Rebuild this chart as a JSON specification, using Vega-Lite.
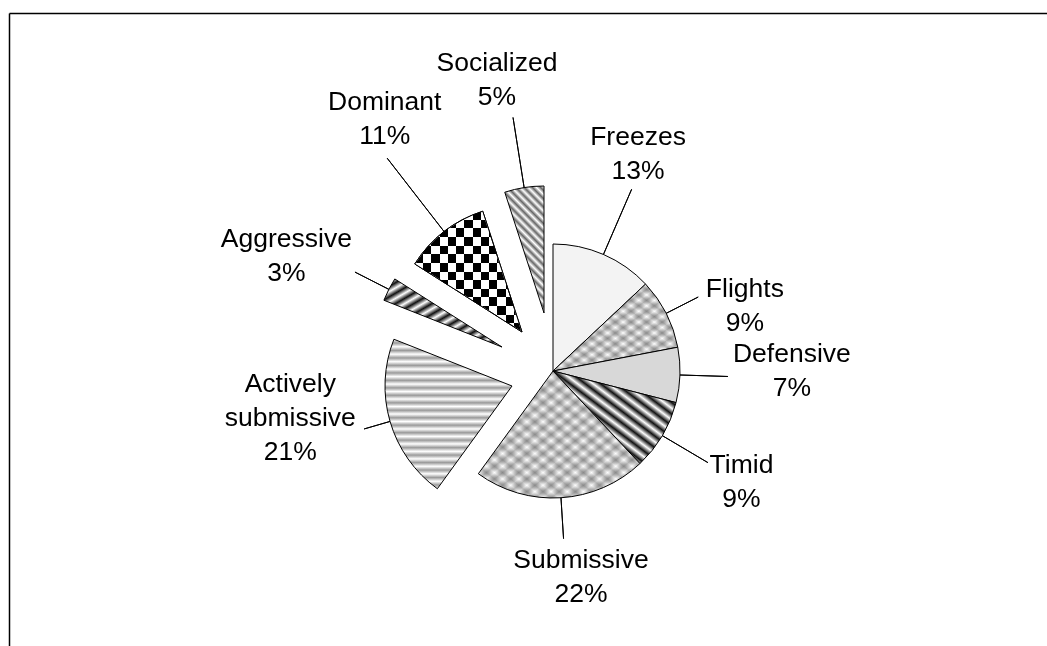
{
  "$schema": "https://vega.github.io/schema/vega-lite/v6.json",
  "width": 1038,
  "height": 633,
  "autosize": {"type": "none"},
  "padding": {"left": 9, "top": 13, "right": 0, "bottom": 0},
  "background": "white",
  "config": {"view": {"stroke": null}, "font": "Liberation Sans"},
  "data": {"values": [
    {"Behavior": "Freezes", "Percent": 13, "Label": "Freezes\n13%"},
    {"Behavior": "Flights", "Percent": 9, "Label": "Flights\n9%"},
    {"Behavior": "Defensive", "Percent": 7, "Label": "Defensive\n7%"},
    {"Behavior": "Timid", "Percent": 9, "Label": "Timid\n9%"},
    {"Behavior": "Submissive", "Percent": 22, "Label": "Submissive\n22%"},
    {"Behavior": "Actively submissive", "Percent": 21, "Label": "Actively\nsubmissive\n21%"},
    {"Behavior": "Aggressive", "Percent": 3, "Label": "Aggressive\n3%"},
    {"Behavior": "Dominant", "Percent": 11, "Label": "Dominant\n11%"},
    {"Behavior": "Socialized", "Percent": 5, "Label": "Socialized\n5%"}
  ]},
  "transform": [{"stack": "Percent", "groupby": [], "as": ["p0", "p1"]}],
  "encoding": {
    "theta": {"field": "p0", "type": "quantitative", "scale": {"domain": [0, 100]}, "stack": null},
    "theta2": {"field": "p1"}
  },
  "layer": [
    {"mark": {"type": "point", "opacity": 0},
     "encoding": {
       "x": {"datum": 0, "type": "quantitative", "scale": {"domain": [0, 1]},
             "axis": {"orient": "top", "domain": true, "domainColor": "#000", "domainWidth": 1.5, "ticks": false, "labels": false, "grid": false, "title": null, "minExtent": 0, "maxExtent": 0}},
       "y": {"datum": 0, "type": "quantitative", "scale": {"domain": [0, 1]},
             "axis": {"orient": "left", "domain": true, "domainColor": "#000", "domainWidth": 1.5, "ticks": false, "labels": false, "grid": false, "title": null, "minExtent": 0, "maxExtent": 0}},
       "theta": null, "theta2": null}},

    {"transform": [{"filter": "datum.Behavior === 'Freezes'"}],
     "mark": {"type": "arc", "radius": 127, "xOffset": 25, "yOffset": 41.5, "stroke": "#000", "strokeWidth": 1, "fill": "#f3f3f3"}},

    {"transform": [{"filter": "datum.Behavior === 'Flights'"}],
     "mark": {"type": "arc", "radius": 127, "xOffset": 25, "yOffset": 41.5, "stroke": "#000", "strokeWidth": 1,
       "fill": {"gradient": "linear", "x1": 0, "y1": 0, "x2": 1, "y2": 1, "stops": [
         {"offset": 0, "color": "#fff"}, {"offset": 0.03125, "color": "#bbb"}, {"offset": 0.0625, "color": "#fff"}, {"offset": 0.09375, "color": "#bbb"},
         {"offset": 0.125, "color": "#fff"}, {"offset": 0.15625, "color": "#bbb"}, {"offset": 0.1875, "color": "#fff"}, {"offset": 0.21875, "color": "#bbb"},
         {"offset": 0.25, "color": "#fff"}, {"offset": 0.28125, "color": "#bbb"}, {"offset": 0.3125, "color": "#fff"}, {"offset": 0.34375, "color": "#bbb"},
         {"offset": 0.375, "color": "#fff"}, {"offset": 0.40625, "color": "#bbb"}, {"offset": 0.4375, "color": "#fff"}, {"offset": 0.46875, "color": "#bbb"},
         {"offset": 0.5, "color": "#fff"}, {"offset": 0.53125, "color": "#bbb"}, {"offset": 0.5625, "color": "#fff"}, {"offset": 0.59375, "color": "#bbb"},
         {"offset": 0.625, "color": "#fff"}, {"offset": 0.65625, "color": "#bbb"}, {"offset": 0.6875, "color": "#fff"}, {"offset": 0.71875, "color": "#bbb"},
         {"offset": 0.75, "color": "#fff"}, {"offset": 0.78125, "color": "#bbb"}, {"offset": 0.8125, "color": "#fff"}, {"offset": 0.84375, "color": "#bbb"},
         {"offset": 0.875, "color": "#fff"}, {"offset": 0.90625, "color": "#bbb"}, {"offset": 0.9375, "color": "#fff"}, {"offset": 0.96875, "color": "#bbb"},
         {"offset": 1, "color": "#fff"}]}}},
    {"transform": [{"filter": "datum.Behavior === 'Flights'"}],
     "mark": {"type": "arc", "radius": 127, "xOffset": 25, "yOffset": 41.5, "strokeWidth": 0, "blend": "multiply",
       "fill": {"gradient": "linear", "x1": 0, "y1": 1, "x2": 1, "y2": 0, "stops": [
         {"offset": 0, "color": "#fff"}, {"offset": 0.03125, "color": "#bbb"}, {"offset": 0.0625, "color": "#fff"}, {"offset": 0.09375, "color": "#bbb"},
         {"offset": 0.125, "color": "#fff"}, {"offset": 0.15625, "color": "#bbb"}, {"offset": 0.1875, "color": "#fff"}, {"offset": 0.21875, "color": "#bbb"},
         {"offset": 0.25, "color": "#fff"}, {"offset": 0.28125, "color": "#bbb"}, {"offset": 0.3125, "color": "#fff"}, {"offset": 0.34375, "color": "#bbb"},
         {"offset": 0.375, "color": "#fff"}, {"offset": 0.40625, "color": "#bbb"}, {"offset": 0.4375, "color": "#fff"}, {"offset": 0.46875, "color": "#bbb"},
         {"offset": 0.5, "color": "#fff"}, {"offset": 0.53125, "color": "#bbb"}, {"offset": 0.5625, "color": "#fff"}, {"offset": 0.59375, "color": "#bbb"},
         {"offset": 0.625, "color": "#fff"}, {"offset": 0.65625, "color": "#bbb"}, {"offset": 0.6875, "color": "#fff"}, {"offset": 0.71875, "color": "#bbb"},
         {"offset": 0.75, "color": "#fff"}, {"offset": 0.78125, "color": "#bbb"}, {"offset": 0.8125, "color": "#fff"}, {"offset": 0.84375, "color": "#bbb"},
         {"offset": 0.875, "color": "#fff"}, {"offset": 0.90625, "color": "#bbb"}, {"offset": 0.9375, "color": "#fff"}, {"offset": 0.96875, "color": "#bbb"},
         {"offset": 1, "color": "#fff"}]}}},

    {"transform": [{"filter": "datum.Behavior === 'Defensive'"}],
     "mark": {"type": "arc", "radius": 127, "xOffset": 25, "yOffset": 41.5, "stroke": "#000", "strokeWidth": 1, "fill": "#d8d8d8"}},

    {"transform": [{"filter": "datum.Behavior === 'Timid'"}],
     "mark": {"type": "arc", "radius": 127, "xOffset": 25, "yOffset": 41.5, "stroke": "#000", "strokeWidth": 1,
       "fill": {"gradient": "linear", "x1": 0, "y1": 1, "x2": 1, "y2": 0, "stops": [
         {"offset": 0, "color": "#111"}, {"offset": 0.03125, "color": "#fff"}, {"offset": 0.0625, "color": "#111"}, {"offset": 0.09375, "color": "#fff"},
         {"offset": 0.125, "color": "#111"}, {"offset": 0.15625, "color": "#fff"}, {"offset": 0.1875, "color": "#111"}, {"offset": 0.21875, "color": "#fff"},
         {"offset": 0.25, "color": "#111"}, {"offset": 0.28125, "color": "#fff"}, {"offset": 0.3125, "color": "#111"}, {"offset": 0.34375, "color": "#fff"},
         {"offset": 0.375, "color": "#111"}, {"offset": 0.40625, "color": "#fff"}, {"offset": 0.4375, "color": "#111"}, {"offset": 0.46875, "color": "#fff"},
         {"offset": 0.5, "color": "#111"}, {"offset": 0.53125, "color": "#fff"}, {"offset": 0.5625, "color": "#111"}, {"offset": 0.59375, "color": "#fff"},
         {"offset": 0.625, "color": "#111"}, {"offset": 0.65625, "color": "#fff"}, {"offset": 0.6875, "color": "#111"}, {"offset": 0.71875, "color": "#fff"},
         {"offset": 0.75, "color": "#111"}, {"offset": 0.78125, "color": "#fff"}, {"offset": 0.8125, "color": "#111"}, {"offset": 0.84375, "color": "#fff"},
         {"offset": 0.875, "color": "#111"}, {"offset": 0.90625, "color": "#fff"}, {"offset": 0.9375, "color": "#111"}, {"offset": 0.96875, "color": "#fff"},
         {"offset": 1, "color": "#111"}]}}},

    {"transform": [{"filter": "datum.Behavior === 'Submissive'"}],
     "mark": {"type": "arc", "radius": 127, "xOffset": 25, "yOffset": 41.5, "stroke": "#000", "strokeWidth": 1,
       "fill": {"gradient": "linear", "x1": 0, "y1": 0, "x2": 1, "y2": 1, "stops": [
         {"offset": 0, "color": "#fff"}, {"offset": 0.025, "color": "#bbb"}, {"offset": 0.05, "color": "#fff"}, {"offset": 0.075, "color": "#bbb"},
         {"offset": 0.1, "color": "#fff"}, {"offset": 0.125, "color": "#bbb"}, {"offset": 0.15, "color": "#fff"}, {"offset": 0.175, "color": "#bbb"},
         {"offset": 0.2, "color": "#fff"}, {"offset": 0.225, "color": "#bbb"}, {"offset": 0.25, "color": "#fff"}, {"offset": 0.275, "color": "#bbb"},
         {"offset": 0.3, "color": "#fff"}, {"offset": 0.325, "color": "#bbb"}, {"offset": 0.35, "color": "#fff"}, {"offset": 0.375, "color": "#bbb"},
         {"offset": 0.4, "color": "#fff"}, {"offset": 0.425, "color": "#bbb"}, {"offset": 0.45, "color": "#fff"}, {"offset": 0.475, "color": "#bbb"},
         {"offset": 0.5, "color": "#fff"}, {"offset": 0.525, "color": "#bbb"}, {"offset": 0.55, "color": "#fff"}, {"offset": 0.575, "color": "#bbb"},
         {"offset": 0.6, "color": "#fff"}, {"offset": 0.625, "color": "#bbb"}, {"offset": 0.65, "color": "#fff"}, {"offset": 0.675, "color": "#bbb"},
         {"offset": 0.7, "color": "#fff"}, {"offset": 0.725, "color": "#bbb"}, {"offset": 0.75, "color": "#fff"}, {"offset": 0.775, "color": "#bbb"},
         {"offset": 0.8, "color": "#fff"}, {"offset": 0.825, "color": "#bbb"}, {"offset": 0.85, "color": "#fff"}, {"offset": 0.875, "color": "#bbb"},
         {"offset": 0.9, "color": "#fff"}, {"offset": 0.925, "color": "#bbb"}, {"offset": 0.95, "color": "#fff"}, {"offset": 0.975, "color": "#bbb"},
         {"offset": 1, "color": "#fff"}]}}},
    {"transform": [{"filter": "datum.Behavior === 'Submissive'"}],
     "mark": {"type": "arc", "radius": 127, "xOffset": 25, "yOffset": 41.5, "strokeWidth": 0, "blend": "multiply",
       "fill": {"gradient": "linear", "x1": 0, "y1": 1, "x2": 1, "y2": 0, "stops": [
         {"offset": 0, "color": "#fff"}, {"offset": 0.025, "color": "#bbb"}, {"offset": 0.05, "color": "#fff"}, {"offset": 0.075, "color": "#bbb"},
         {"offset": 0.1, "color": "#fff"}, {"offset": 0.125, "color": "#bbb"}, {"offset": 0.15, "color": "#fff"}, {"offset": 0.175, "color": "#bbb"},
         {"offset": 0.2, "color": "#fff"}, {"offset": 0.225, "color": "#bbb"}, {"offset": 0.25, "color": "#fff"}, {"offset": 0.275, "color": "#bbb"},
         {"offset": 0.3, "color": "#fff"}, {"offset": 0.325, "color": "#bbb"}, {"offset": 0.35, "color": "#fff"}, {"offset": 0.375, "color": "#bbb"},
         {"offset": 0.4, "color": "#fff"}, {"offset": 0.425, "color": "#bbb"}, {"offset": 0.45, "color": "#fff"}, {"offset": 0.475, "color": "#bbb"},
         {"offset": 0.5, "color": "#fff"}, {"offset": 0.525, "color": "#bbb"}, {"offset": 0.55, "color": "#fff"}, {"offset": 0.575, "color": "#bbb"},
         {"offset": 0.6, "color": "#fff"}, {"offset": 0.625, "color": "#bbb"}, {"offset": 0.65, "color": "#fff"}, {"offset": 0.675, "color": "#bbb"},
         {"offset": 0.7, "color": "#fff"}, {"offset": 0.725, "color": "#bbb"}, {"offset": 0.75, "color": "#fff"}, {"offset": 0.775, "color": "#bbb"},
         {"offset": 0.8, "color": "#fff"}, {"offset": 0.825, "color": "#bbb"}, {"offset": 0.85, "color": "#fff"}, {"offset": 0.875, "color": "#bbb"},
         {"offset": 0.9, "color": "#fff"}, {"offset": 0.925, "color": "#bbb"}, {"offset": 0.95, "color": "#fff"}, {"offset": 0.975, "color": "#bbb"},
         {"offset": 1, "color": "#fff"}]}}},

    {"transform": [{"filter": "datum.Behavior === 'Actively submissive'"}],
     "mark": {"type": "arc", "radius": 127, "xOffset": -16, "yOffset": 56.5, "stroke": "#000", "strokeWidth": 1,
       "fill": {"gradient": "linear", "x1": 0, "y1": 0, "x2": 0, "y2": 1, "stops": [
         {"offset": 0, "color": "#fff"}, {"offset": 0.025, "color": "#9a9a9a"}, {"offset": 0.05, "color": "#fff"}, {"offset": 0.075, "color": "#9a9a9a"},
         {"offset": 0.1, "color": "#fff"}, {"offset": 0.125, "color": "#9a9a9a"}, {"offset": 0.15, "color": "#fff"}, {"offset": 0.175, "color": "#9a9a9a"},
         {"offset": 0.2, "color": "#fff"}, {"offset": 0.225, "color": "#9a9a9a"}, {"offset": 0.25, "color": "#fff"}, {"offset": 0.275, "color": "#9a9a9a"},
         {"offset": 0.3, "color": "#fff"}, {"offset": 0.325, "color": "#9a9a9a"}, {"offset": 0.35, "color": "#fff"}, {"offset": 0.375, "color": "#9a9a9a"},
         {"offset": 0.4, "color": "#fff"}, {"offset": 0.425, "color": "#9a9a9a"}, {"offset": 0.45, "color": "#fff"}, {"offset": 0.475, "color": "#9a9a9a"},
         {"offset": 0.5, "color": "#fff"}, {"offset": 0.525, "color": "#9a9a9a"}, {"offset": 0.55, "color": "#fff"}, {"offset": 0.575, "color": "#9a9a9a"},
         {"offset": 0.6, "color": "#fff"}, {"offset": 0.625, "color": "#9a9a9a"}, {"offset": 0.65, "color": "#fff"}, {"offset": 0.675, "color": "#9a9a9a"},
         {"offset": 0.7, "color": "#fff"}, {"offset": 0.725, "color": "#9a9a9a"}, {"offset": 0.75, "color": "#fff"}, {"offset": 0.775, "color": "#9a9a9a"},
         {"offset": 0.8, "color": "#fff"}, {"offset": 0.825, "color": "#9a9a9a"}, {"offset": 0.85, "color": "#fff"}, {"offset": 0.875, "color": "#9a9a9a"},
         {"offset": 0.9, "color": "#fff"}, {"offset": 0.925, "color": "#9a9a9a"}, {"offset": 0.95, "color": "#fff"}, {"offset": 0.975, "color": "#9a9a9a"},
         {"offset": 1, "color": "#fff"}]}}},

    {"transform": [{"filter": "datum.Behavior === 'Aggressive'"}],
     "mark": {"type": "arc", "radius": 127, "xOffset": -26, "yOffset": 17.5, "stroke": "#000", "strokeWidth": 1,
       "fill": {"gradient": "linear", "x1": 0, "y1": 0, "x2": 1, "y2": 1, "stops": [
         {"offset": 0, "color": "#111"}, {"offset": 0.0385, "color": "#fff"}, {"offset": 0.0769, "color": "#111"}, {"offset": 0.1154, "color": "#fff"},
         {"offset": 0.1538, "color": "#111"}, {"offset": 0.1923, "color": "#fff"}, {"offset": 0.2308, "color": "#111"}, {"offset": 0.2692, "color": "#fff"},
         {"offset": 0.3077, "color": "#111"}, {"offset": 0.3462, "color": "#fff"}, {"offset": 0.3846, "color": "#111"}, {"offset": 0.4231, "color": "#fff"},
         {"offset": 0.4615, "color": "#111"}, {"offset": 0.5, "color": "#fff"}, {"offset": 0.5385, "color": "#111"}, {"offset": 0.5769, "color": "#fff"},
         {"offset": 0.6154, "color": "#111"}, {"offset": 0.6538, "color": "#fff"}, {"offset": 0.6923, "color": "#111"}, {"offset": 0.7308, "color": "#fff"},
         {"offset": 0.7692, "color": "#111"}, {"offset": 0.8077, "color": "#fff"}, {"offset": 0.8462, "color": "#111"}, {"offset": 0.8846, "color": "#fff"},
         {"offset": 0.9231, "color": "#111"}, {"offset": 0.9615, "color": "#fff"}, {"offset": 1, "color": "#111"}]}}},

    {"transform": [{"filter": "datum.Behavior === 'Dominant'"}],
     "mark": {"type": "arc", "radius": 127, "xOffset": -6, "yOffset": 2.5, "stroke": "#000", "strokeWidth": 1,
       "fill": {"gradient": "linear", "x1": 0, "y1": 0, "x2": 0, "y2": 1, "stops": [
         {"offset": 0, "color": "#000"}, {"offset": 0.0714, "color": "#000"}, {"offset": 0.0714, "color": "#fff"}, {"offset": 0.1429, "color": "#fff"},
         {"offset": 0.1429, "color": "#000"}, {"offset": 0.2143, "color": "#000"}, {"offset": 0.2143, "color": "#fff"}, {"offset": 0.2857, "color": "#fff"},
         {"offset": 0.2857, "color": "#000"}, {"offset": 0.3571, "color": "#000"}, {"offset": 0.3571, "color": "#fff"}, {"offset": 0.4286, "color": "#fff"},
         {"offset": 0.4286, "color": "#000"}, {"offset": 0.5, "color": "#000"}, {"offset": 0.5, "color": "#fff"}, {"offset": 0.5714, "color": "#fff"},
         {"offset": 0.5714, "color": "#000"}, {"offset": 0.6429, "color": "#000"}, {"offset": 0.6429, "color": "#fff"}, {"offset": 0.7143, "color": "#fff"},
         {"offset": 0.7143, "color": "#000"}, {"offset": 0.7857, "color": "#000"}, {"offset": 0.7857, "color": "#fff"}, {"offset": 0.8571, "color": "#fff"},
         {"offset": 0.8571, "color": "#000"}, {"offset": 0.9286, "color": "#000"}, {"offset": 0.9286, "color": "#fff"}, {"offset": 1, "color": "#fff"}]}}},
    {"transform": [{"filter": "datum.Behavior === 'Dominant'"}],
     "mark": {"type": "arc", "radius": 127, "xOffset": -6, "yOffset": 2.5, "strokeWidth": 0, "blend": "difference",
       "fill": {"gradient": "linear", "x1": 0, "y1": 0, "x2": 1, "y2": 0, "stops": [
         {"offset": 0, "color": "#fff"}, {"offset": 0.0769, "color": "#fff"}, {"offset": 0.0769, "color": "#000"}, {"offset": 0.1538, "color": "#000"},
         {"offset": 0.1538, "color": "#fff"}, {"offset": 0.2308, "color": "#fff"}, {"offset": 0.2308, "color": "#000"}, {"offset": 0.3077, "color": "#000"},
         {"offset": 0.3077, "color": "#fff"}, {"offset": 0.3846, "color": "#fff"}, {"offset": 0.3846, "color": "#000"}, {"offset": 0.4615, "color": "#000"},
         {"offset": 0.4615, "color": "#fff"}, {"offset": 0.5385, "color": "#fff"}, {"offset": 0.5385, "color": "#000"}, {"offset": 0.6154, "color": "#000"},
         {"offset": 0.6154, "color": "#fff"}, {"offset": 0.6923, "color": "#fff"}, {"offset": 0.6923, "color": "#000"}, {"offset": 0.7692, "color": "#000"},
         {"offset": 0.7692, "color": "#fff"}, {"offset": 0.8462, "color": "#fff"}, {"offset": 0.8462, "color": "#000"}, {"offset": 0.9231, "color": "#000"},
         {"offset": 0.9231, "color": "#fff"}, {"offset": 1, "color": "#fff"}]}}},
    {"transform": [{"filter": "datum.Behavior === 'Dominant'"}],
     "mark": {"type": "arc", "radius": 127, "xOffset": -6, "yOffset": 2.5, "filled": false, "stroke": "#000", "strokeWidth": 1}},

    {"transform": [{"filter": "datum.Behavior === 'Socialized'"}],
     "mark": {"type": "arc", "radius": 127, "xOffset": 16, "yOffset": -16.5, "stroke": "#000", "strokeWidth": 1,
       "fill": {"gradient": "linear", "x1": 0, "y1": 1, "x2": 0.37, "y2": -0.19, "stops": [
         {"offset": 0, "color": "#fff"}, {"offset": 0.025, "color": "#666"}, {"offset": 0.05, "color": "#fff"}, {"offset": 0.075, "color": "#666"},
         {"offset": 0.1, "color": "#fff"}, {"offset": 0.125, "color": "#666"}, {"offset": 0.15, "color": "#fff"}, {"offset": 0.175, "color": "#666"},
         {"offset": 0.2, "color": "#fff"}, {"offset": 0.225, "color": "#666"}, {"offset": 0.25, "color": "#fff"}, {"offset": 0.275, "color": "#666"},
         {"offset": 0.3, "color": "#fff"}, {"offset": 0.325, "color": "#666"}, {"offset": 0.35, "color": "#fff"}, {"offset": 0.375, "color": "#666"},
         {"offset": 0.4, "color": "#fff"}, {"offset": 0.425, "color": "#666"}, {"offset": 0.45, "color": "#fff"}, {"offset": 0.475, "color": "#666"},
         {"offset": 0.5, "color": "#fff"}, {"offset": 0.525, "color": "#666"}, {"offset": 0.55, "color": "#fff"}, {"offset": 0.575, "color": "#666"},
         {"offset": 0.6, "color": "#fff"}, {"offset": 0.625, "color": "#666"}, {"offset": 0.65, "color": "#fff"}, {"offset": 0.675, "color": "#666"},
         {"offset": 0.7, "color": "#fff"}, {"offset": 0.725, "color": "#666"}, {"offset": 0.75, "color": "#fff"}, {"offset": 0.775, "color": "#666"},
         {"offset": 0.8, "color": "#fff"}, {"offset": 0.825, "color": "#666"}, {"offset": 0.85, "color": "#fff"}, {"offset": 0.875, "color": "#666"},
         {"offset": 0.9, "color": "#fff"}, {"offset": 0.925, "color": "#666"}, {"offset": 0.95, "color": "#fff"}, {"offset": 0.975, "color": "#666"},
         {"offset": 1, "color": "#fff"}]}}},

    {"transform": [{"filter": "datum.Behavior === 'Freezes'"}],
     "mark": {"type": "arc", "radius": 198, "radius2": 127, "padAngle": 3, "filled": false, "stroke": "#000", "strokeWidth": 1, "xOffset": 25, "yOffset": 41.5}},
    {"transform": [{"filter": "datum.Behavior === 'Flights'"}],
     "mark": {"type": "arc", "radius": 163, "radius2": 127, "padAngle": 3, "filled": false, "stroke": "#000", "strokeWidth": 1, "xOffset": 25, "yOffset": 41.5}},
    {"transform": [{"filter": "datum.Behavior === 'Defensive'"}],
     "mark": {"type": "arc", "radius": 175, "radius2": 127, "padAngle": 3, "filled": false, "stroke": "#000", "strokeWidth": 1, "xOffset": 25, "yOffset": 41.5}},
    {"transform": [{"filter": "datum.Behavior === 'Timid'"}],
     "mark": {"type": "arc", "radius": 180, "radius2": 127, "padAngle": 3, "filled": false, "stroke": "#000", "strokeWidth": 1, "xOffset": 25, "yOffset": 41.5}},
    {"transform": [{"filter": "datum.Behavior === 'Submissive'"}],
     "mark": {"type": "arc", "radius": 168, "radius2": 127, "padAngle": 3, "filled": false, "stroke": "#000", "strokeWidth": 1, "xOffset": 25, "yOffset": 41.5}},
    {"transform": [{"filter": "datum.Behavior === 'Actively submissive'"}],
     "mark": {"type": "arc", "radius": 154, "radius2": 127, "padAngle": 3, "filled": false, "stroke": "#000", "strokeWidth": 1, "xOffset": -16, "yOffset": 56.5}},
    {"transform": [{"filter": "datum.Behavior === 'Aggressive'"}],
     "mark": {"type": "arc", "radius": 165, "radius2": 127, "padAngle": 3, "filled": false, "stroke": "#000", "strokeWidth": 1, "xOffset": -26, "yOffset": 17.5}},
    {"transform": [{"filter": "datum.Behavior === 'Dominant'"}],
     "mark": {"type": "arc", "radius": 220, "radius2": 127, "padAngle": 3, "filled": false, "stroke": "#000", "strokeWidth": 1, "xOffset": -6, "yOffset": 2.5}},
    {"transform": [{"filter": "datum.Behavior === 'Socialized'"}],
     "mark": {"type": "arc", "radius": 198, "radius2": 127, "padAngle": 3, "filled": false, "stroke": "#000", "strokeWidth": 1, "xOffset": 16, "yOffset": -16.5}},

    {"mark": {"type": "text", "radius": 233, "xOffset": 17.5, "yOffset": 20.9, "fontSize": 26.5, "lineHeight": 34, "lineBreak": "\n", "align": "center", "baseline": "middle", "color": "#000"},
     "encoding": {"theta": {"field": "Percent", "type": "quantitative", "stack": true, "scale": {"domain": [0, 100]}}, "theta2": null, "order": {"field": "p0", "type": "quantitative"},
       "text": {"condition": {"test": "datum.Behavior === 'Freezes'", "field": "Label", "type": "nominal"}, "value": ""}}},
    {"mark": {"type": "text", "radius": 203, "xOffset": 36, "yOffset": 51.2, "fontSize": 26.5, "lineHeight": 34, "lineBreak": "\n", "align": "center", "baseline": "middle", "color": "#000"},
     "encoding": {"theta": {"field": "Percent", "type": "quantitative", "stack": true, "scale": {"domain": [0, 100]}}, "theta2": null, "order": {"field": "p0", "type": "quantitative"},
       "text": {"condition": {"test": "datum.Behavior === 'Flights'", "field": "Label", "type": "nominal"}, "value": ""}}},
    {"mark": {"type": "text", "radius": 239, "xOffset": 25, "yOffset": 16.5, "fontSize": 26.5, "lineHeight": 34, "lineBreak": "\n", "align": "center", "baseline": "middle", "color": "#000"},
     "encoding": {"theta": {"field": "Percent", "type": "quantitative", "stack": true, "scale": {"domain": [0, 100]}}, "theta2": null, "order": {"field": "p0", "type": "quantitative"},
       "text": {"condition": {"test": "datum.Behavior === 'Defensive'", "field": "Label", "type": "nominal"}, "value": ""}}},
    {"mark": {"type": "text", "radius": 219, "xOffset": 25, "yOffset": 24.5, "fontSize": 26.5, "lineHeight": 34, "lineBreak": "\n", "align": "center", "baseline": "middle", "color": "#000"},
     "encoding": {"theta": {"field": "Percent", "type": "quantitative", "stack": true, "scale": {"domain": [0, 100]}}, "theta2": null, "order": {"field": "p0", "type": "quantitative"},
       "text": {"condition": {"test": "datum.Behavior === 'Timid'", "field": "Label", "type": "nominal"}, "value": ""}}},
    {"mark": {"type": "text", "radius": 207, "xOffset": 40, "yOffset": 24, "fontSize": 26.5, "lineHeight": 34, "lineBreak": "\n", "align": "center", "baseline": "middle", "color": "#000"},
     "encoding": {"theta": {"field": "Percent", "type": "quantitative", "stack": true, "scale": {"domain": [0, 100]}}, "theta2": null, "order": {"field": "p0", "type": "quantitative"},
       "text": {"condition": {"test": "datum.Behavior === 'Submissive'", "field": "Label", "type": "nominal"}, "value": ""}}},
    {"mark": {"type": "text", "radius": 224, "xOffset": -22.6, "yOffset": -8.1, "fontSize": 26.5, "lineHeight": 34, "lineBreak": "\n", "align": "center", "baseline": "middle", "color": "#000"},
     "encoding": {"theta": {"field": "Percent", "type": "quantitative", "stack": true, "scale": {"domain": [0, 100]}}, "theta2": null, "order": {"field": "p0", "type": "quantitative"},
       "text": {"condition": {"test": "datum.Behavior === 'Actively submissive'", "field": "Label", "type": "nominal"}, "value": ""}}},
    {"mark": {"type": "text", "radius": 234, "xOffset": -33.1, "yOffset": 15.9, "fontSize": 26.5, "lineHeight": 34, "lineBreak": "\n", "align": "center", "baseline": "middle", "color": "#000"},
     "encoding": {"theta": {"field": "Percent", "type": "quantitative", "stack": true, "scale": {"domain": [0, 100]}}, "theta2": null, "order": {"field": "p0", "type": "quantitative"},
       "text": {"condition": {"test": "datum.Behavior === 'Aggressive'", "field": "Label", "type": "nominal"}, "value": ""}}},
    {"mark": {"type": "text", "radius": 253, "xOffset": 11.8, "yOffset": -27.1, "fontSize": 26.5, "lineHeight": 34, "lineBreak": "\n", "align": "center", "baseline": "middle", "color": "#000"},
     "encoding": {"theta": {"field": "Percent", "type": "quantitative", "stack": true, "scale": {"domain": [0, 100]}}, "theta2": null, "order": {"field": "p0", "type": "quantitative"},
       "text": {"condition": {"test": "datum.Behavior === 'Dominant'", "field": "Label", "type": "nominal"}, "value": ""}}},
    {"mark": {"type": "text", "radius": 238, "xOffset": 6.2, "yOffset": -31.7, "fontSize": 26.5, "lineHeight": 34, "lineBreak": "\n", "align": "center", "baseline": "middle", "color": "#000"},
     "encoding": {"theta": {"field": "Percent", "type": "quantitative", "stack": true, "scale": {"domain": [0, 100]}}, "theta2": null, "order": {"field": "p0", "type": "quantitative"},
       "text": {"condition": {"test": "datum.Behavior === 'Socialized'", "field": "Label", "type": "nominal"}, "value": ""}}}
  ]
}
